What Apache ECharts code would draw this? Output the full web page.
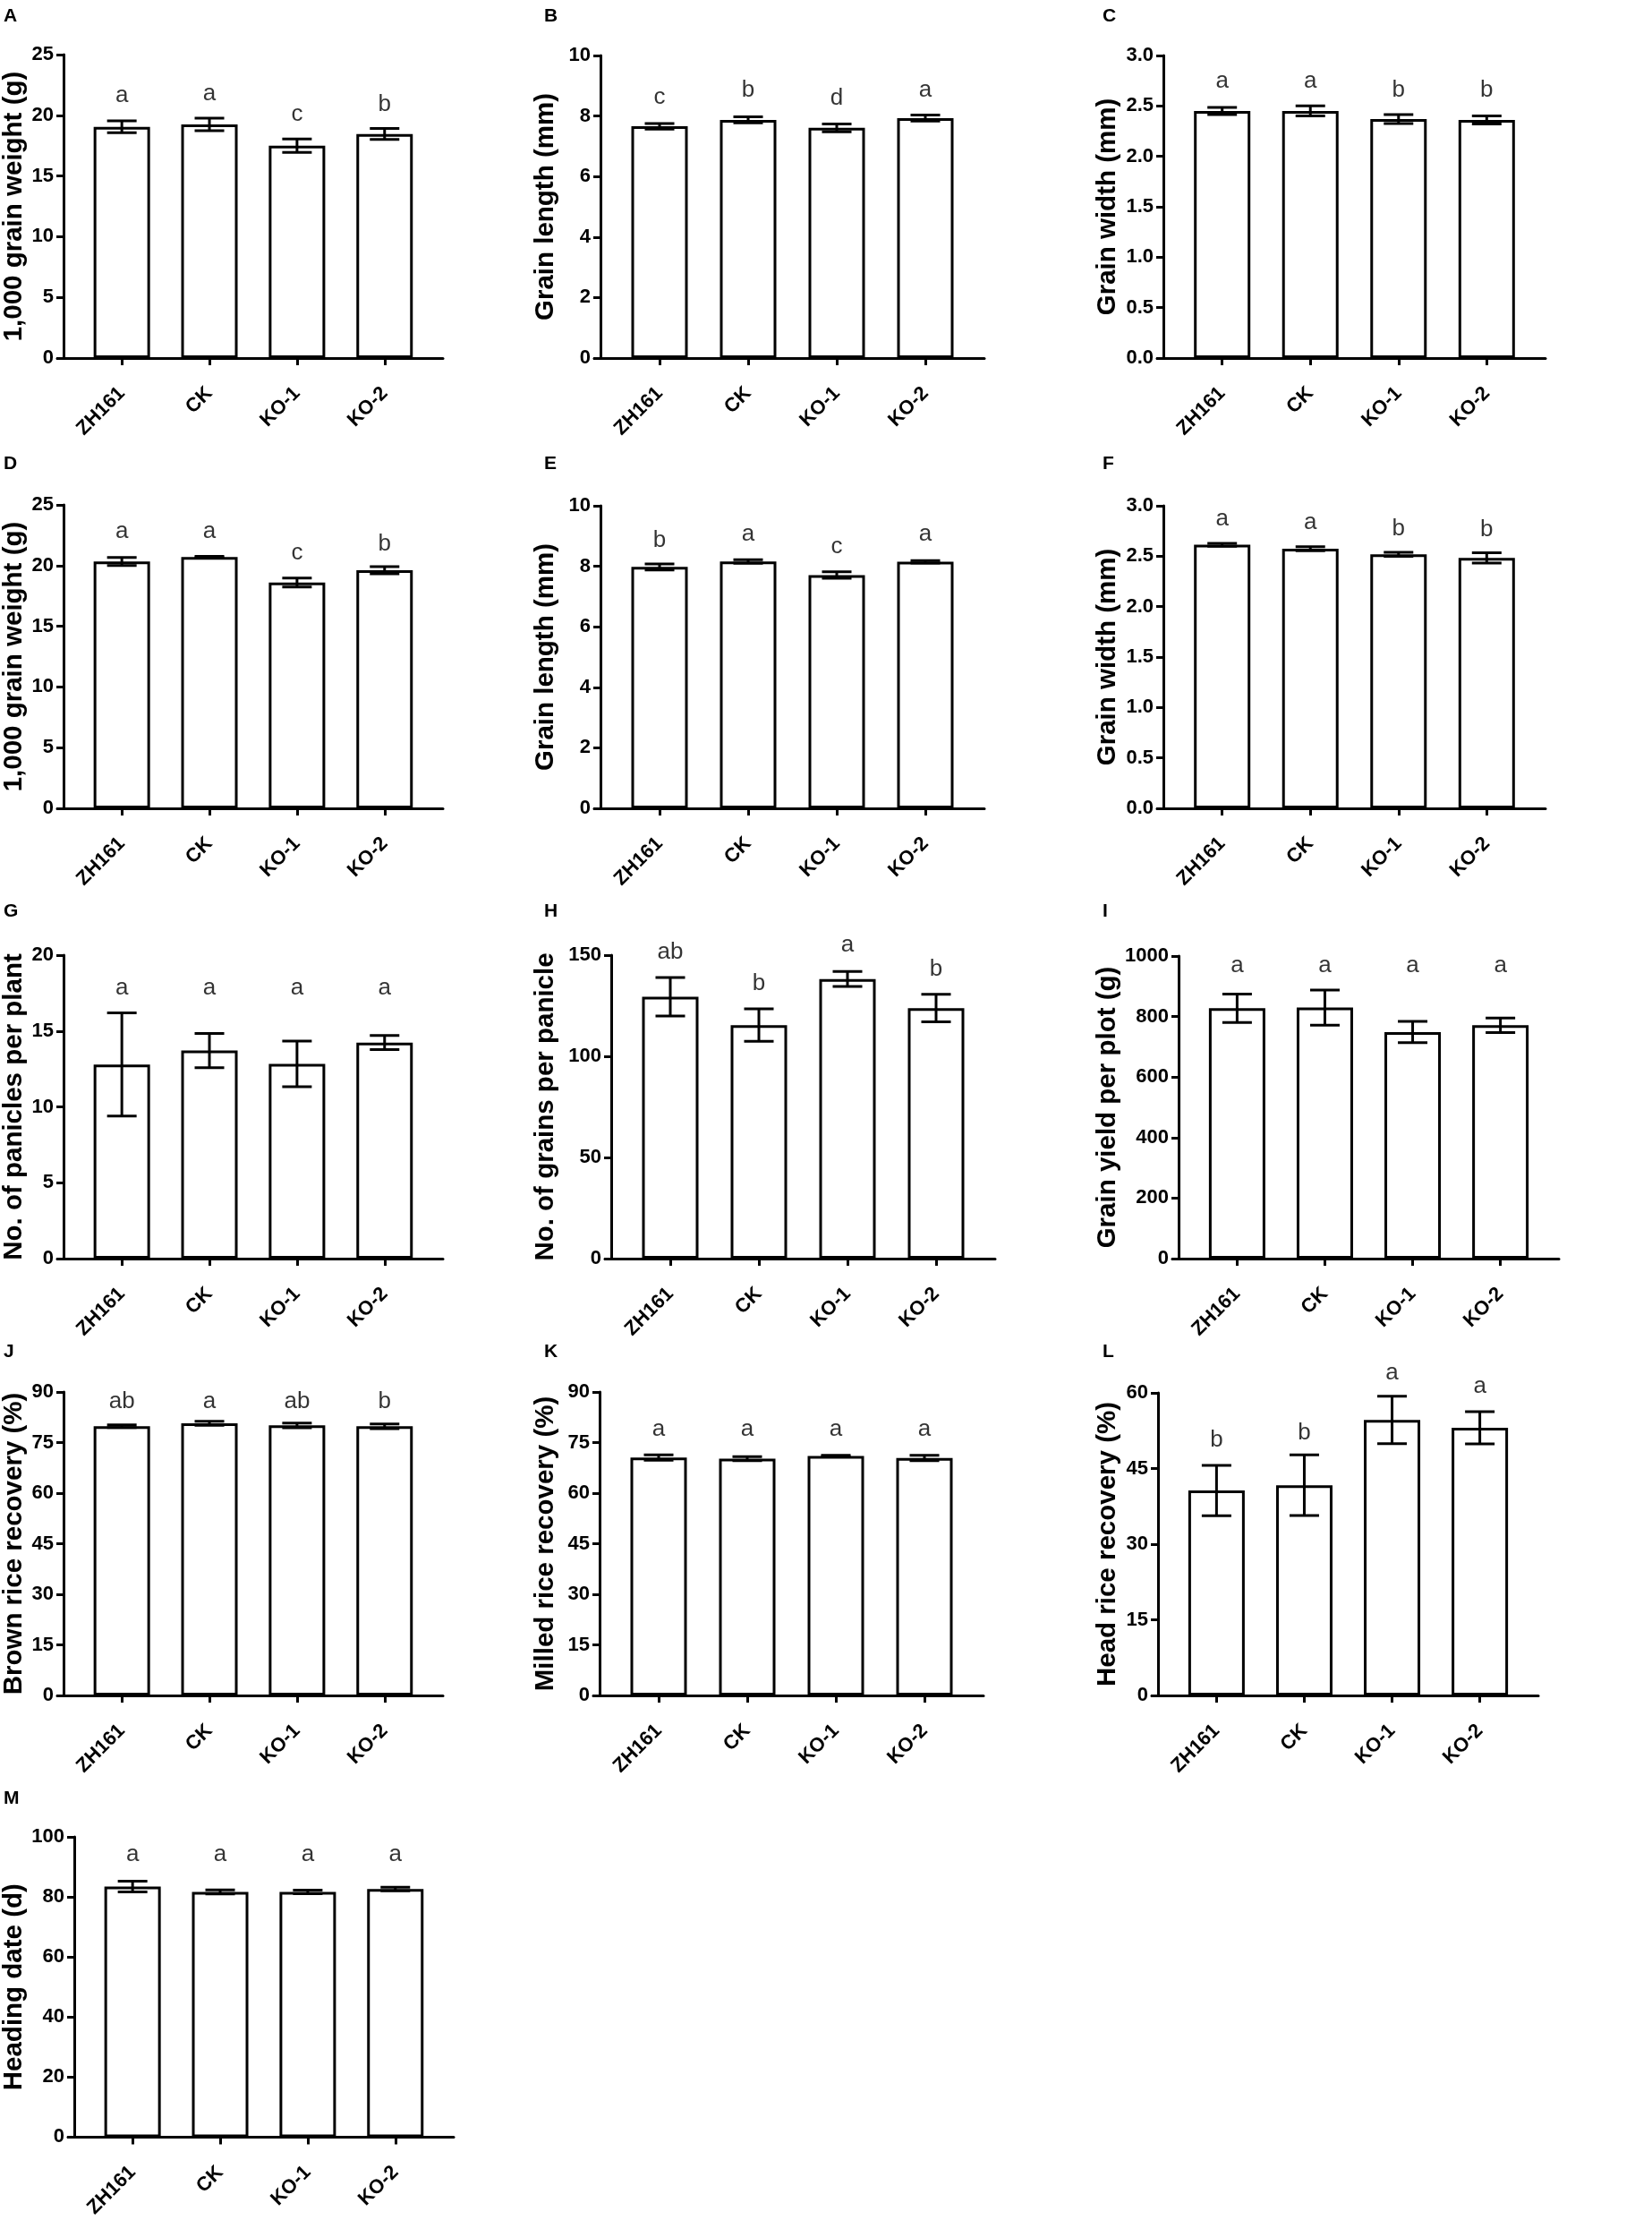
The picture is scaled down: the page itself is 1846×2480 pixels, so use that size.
<!DOCTYPE html>
<html>
<head>
<meta charset="utf-8">
<script src="https://cdn.jsdelivr.net/npm/echarts@6/dist/echarts.min.js"></script>
<style>
html,body{margin:0;padding:0;background:#fff;}
#chart{width:1846px;height:2480px;}
</style>
</head>
<body>
<div id="chart"></div>
<script>
// ---------- data ----------
const categories = ['ZH161', 'CK', 'KO-1', 'KO-2'];
const panelIds = ['A','B','C','D','E','F','G','H','I','J','K','L','M'];

const titles = ['1,000 grain weight (g)', 'Grain length (mm)', 'Grain width (mm)',
  '1,000 grain weight (g)', 'Grain length (mm)', 'Grain width (mm)',
  'No. of panicles per plant', 'No. of grains per panicle', 'Grain yield per plot (g)',
  'Brown rice recovery (%)', 'Milled rice recovery (%)', 'Head rice recovery (%)',
  'Heading date (d)'];

const yMax      = [25, 10, 3, 25, 10, 3, 20, 150, 1000, 90, 90, 60, 100];
const yInterval = [5, 2, 0.5, 5, 2, 0.5, 5, 50, 200, 15, 15, 15, 20];
const yDecimals = [0, 0, 1, 0, 0, 1, 0, 0, 0, 0, 0, 0, 0];

const meanA = [19.05, 19.25, 17.50, 18.46], errA = [0.49, 0.51, 0.55, 0.45];
const meanB = [7.66, 7.87, 7.61, 7.93],     errB = [0.09, 0.10, 0.13, 0.10];
const meanC = [2.45, 2.45, 2.37, 2.36],     errC = [0.035, 0.05, 0.045, 0.04];
const meanD = [20.33, 20.70, 18.61, 19.62], errD = [0.33, 0.06, 0.37, 0.30];
const meanE = [7.98, 8.16, 7.71, 8.15],     errE = [0.10, 0.06, 0.11, 0.04];
const meanF = [2.613, 2.574, 2.518, 2.483], errF = [0.015, 0.02, 0.02, 0.05];
const meanG = [12.79, 13.71, 12.83, 14.24], errG = [3.4, 1.13, 1.5, 0.47];
const meanH = [129.4, 115.4, 138.2, 123.8], errH = [9.5, 8.0, 3.7, 6.8];
const meanI = [827.6, 829.6, 748.8, 771.4], errI = [47, 58, 35, 24];
const meanJ = [79.83, 80.72, 80.10, 79.83], errJ = [0.4, 0.6, 0.7, 0.7];
const meanK = [70.55, 70.20, 71.00, 70.40], errK = [0.8, 0.6, 0.2, 0.8];
const meanL = [40.63, 41.69, 54.63, 53.09], errL = [5.0, 6.0, 4.7, 3.2];
const meanM = [83.45, 81.67, 81.67, 82.66], errM = [1.8, 0.7, 0.6, 0.6];

const lettersA = ['a','a','c','b'],   letterYA = [20.9, 21.1, 19.4, 20.2];
const lettersB = ['c','b','d','a'],   letterYB = [8.33, 8.57, 8.31, 8.57];
const lettersC = ['a','a','b','b'],   letterYC = [2.66, 2.66, 2.57, 2.57];
const lettersD = ['a','a','c','b'],   letterYD = [22.1, 22.1, 20.3, 21.1];
const lettersE = ['b','a','c','a'],   letterYE = [8.57, 8.77, 8.37, 8.77];
const lettersF = ['a','a','b','b'],   letterYF = [2.78, 2.75, 2.69, 2.68];
const lettersG = ['a','a','a','a'],   letterYG = [17.25, 17.25, 17.25, 17.25];
const lettersH = ['ab','b','a','b'],  letterYH = [147, 131.6, 150.7, 138.9];
const lettersI = ['a','a','a','a'],   letterYI = [939, 939, 939, 939];
const lettersJ = ['ab','a','ab','b'], letterYJ = [84.7, 84.7, 84.7, 84.7];
const lettersK = ['a','a','a','a'],   letterYK = [76.3, 76.3, 76.3, 76.3];
const lettersL = ['b','b','a','a'],   letterYL = [48.9, 50.4, 62.2, 59.5];
const lettersM = ['a','a','a','a'],   letterYM = [91.3, 91.3, 91.3, 91.3];

const means   = [meanA, meanB, meanC, meanD, meanE, meanF, meanG, meanH, meanI, meanJ, meanK, meanL, meanM];
const errs    = [errA, errB, errC, errD, errE, errF, errG, errH, errI, errJ, errK, errL, errM];
const letters = [lettersA, lettersB, lettersC, lettersD, lettersE, lettersF, lettersG, lettersH, lettersI, lettersJ, lettersK, lettersL, lettersM];
const letterY = [letterYA, letterYB, letterYC, letterYD, letterYE, letterYF, letterYG, letterYH, letterYI, letterYJ, letterYK, letterYL, letterYM];

// ---------- layout (pixels) ----------
// [axisX, axisEndX, topY, zeroY, titleEdgeX, labelX, labelY]
const layout = [
  [65, 495, 61, 400, 25, 4, 8],
  [671, 1100, 62, 400, 625, 608, 8],
  [1300, 1727, 62, 400, 1253, 1232, 8],
  [65, 495, 564, 903, 25, 4, 508],
  [671, 1100, 565, 903, 625, 608, 508],
  [1300, 1727, 565, 903, 1253, 1232, 508],
  [65, 495, 1067, 1406, 25, 4, 1008],
  [683, 1112, 1067, 1406, 625, 608, 1008],
  [1317, 1742, 1068, 1406, 1253, 1232, 1008],
  [65, 495, 1555, 1894, 25, 4, 1500],
  [670, 1099, 1555, 1894, 625, 608, 1500],
  [1294, 1719, 1556, 1894, 1253, 1232, 1500],
  [77, 507, 2052, 2391, 25, 4, 1999]
];

const SANS = "'Liberation Sans', Arial, Helvetica, sans-serif";
const catIdx = [0, 1, 2, 3];
const X_OVERHANG = 7;   // x-axis line starts slightly left of the y-axis

const grids = [], xAxes = [], yAxes = [], series = [], graphics = [];

panelIds.forEach((id, i) => {
  const L = layout[i];
  const pxPerUnit = (L[1] - L[0]) / (4 + 1/3);
  grids.push({left: L[0] - X_OVERHANG, top: L[2], width: L[1] - L[0] + X_OVERHANG, height: L[3] - L[2], containLabel: false});
  xAxes.push({
    type: 'value', gridIndex: i, min: -2/3 - X_OVERHANG / pxPerUnit, max: 3 + 2/3,
    splitLine: {show: false},
    axisLine: {show: true, onZero: false, lineStyle: {color: '#000', width: 3}},
    axisTick: {show: true, customValues: catIdx, length: 8, lineStyle: {color: '#000', width: 3}},
    axisLabel: {
      show: true, customValues: catIdx, rotate: 45, margin: 36,
      formatter: v => categories[Math.round(v)],
      color: '#000', fontFamily: SANS, fontWeight: 'bold', fontSize: 22
    }
  });
  const dec = yDecimals[i];
  yAxes.push({
    type: 'value', gridIndex: i, min: 0, max: yMax[i], interval: yInterval[i],
    offset: -X_OVERHANG,
    splitLine: {show: false},
    axisLine: {show: true, onZero: false, lineStyle: {color: '#000', width: 3}},
    axisTick: {show: true, length: 8, lineStyle: {color: '#000', width: 3}},
    axisLabel: {color: '#000', fontFamily: SANS, fontWeight: 'bold', fontSize: 22, margin: 11,
      formatter: v => v.toFixed(dec)},
    name: titles[i], nameLocation: 'middle', nameGap: L[0] - L[4],
    nameTextStyle: {color: '#000', fontFamily: SANS, fontWeight: 'bold', fontSize: 29.5}
  });

  const m = means[i], e = errs[i];
  series.push({
    type: 'bar', xAxisIndex: i, yAxisIndex: i, barWidth: 63,
    data: m.map((v, k) => [k, v]),
    itemStyle: {color: '#fff', borderColor: '#000', borderWidth: 3},
    silent: true, z: 2
  });
  series.push({
    type: 'custom', xAxisIndex: i, yAxisIndex: i, z: 3, silent: true,
    data: m.map((v, k) => [k, v, e[k]]),
    renderItem: (params, api) => {
      const x = api.value(0), mv = api.value(1), ev = api.value(2);
      const top = api.coord([x, mv + ev]).slice();
      const bot = api.coord([x, mv - ev]).slice();
      const half = 16.5;
      const st = {stroke: '#000', lineWidth: 3};
      return {type: 'group', children: [
        {type: 'line', shape: {x1: top[0], y1: top[1], x2: bot[0], y2: bot[1]}, style: st},
        {type: 'line', shape: {x1: top[0] - half, y1: top[1], x2: top[0] + half, y2: top[1]}, style: st},
        {type: 'line', shape: {x1: bot[0] - half, y1: bot[1], x2: bot[0] + half, y2: bot[1]}, style: st}
      ]};
    }
  });
  const lt = letters[i];
  series.push({
    type: 'scatter', xAxisIndex: i, yAxisIndex: i, z: 4, silent: true, clip: false,
    symbolSize: 1, itemStyle: {color: 'rgba(0,0,0,0)'},
    data: letterY[i].map((v, k) => [k, v]),
    label: {show: true, position: 'top', distance: -4,
      formatter: p => lt[p.dataIndex],
      color: '#000', fontFamily: SANS, fontSize: 26, fontWeight: 'normal'}
  });

  graphics.push({type: 'text', left: L[5], top: L[6],
    style: {text: id, fill: '#000', font: "bold 21px " + SANS}});
});

const chart = echarts.init(document.getElementById('chart'), null, {renderer: 'canvas'});
chart.setOption({
  animation: false,
  backgroundColor: '#fff',
  grid: grids, xAxis: xAxes, yAxis: yAxes, series: series, graphic: graphics
});
</script>
</body>
</html>
